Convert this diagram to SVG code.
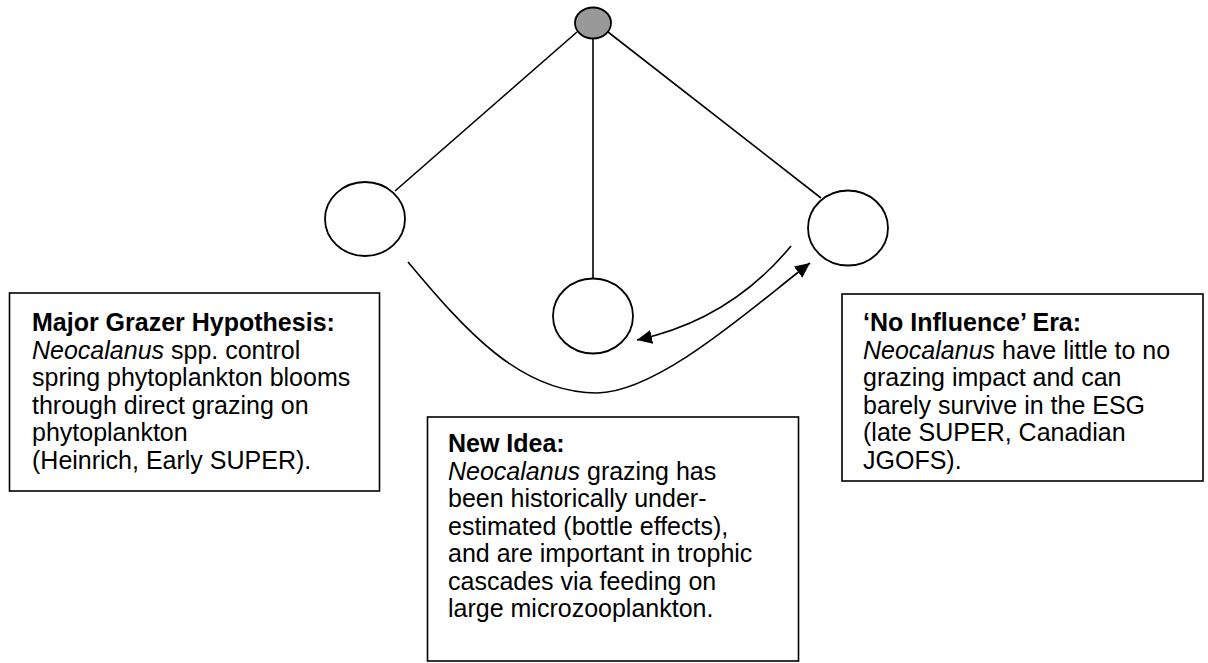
<svg xmlns="http://www.w3.org/2000/svg" width="1208" height="663" viewBox="0 0 1208 663">
<style>
.node{fill:#fff;stroke:#000;stroke-width:1.8}
.hub{fill:#999;stroke:#000;stroke-width:1.8}
.edge{fill:none;stroke:#000;stroke-width:1.6}
.box{fill:#fff;stroke:#000;stroke-width:1.6}
.t{font-family:"Liberation Sans",Arial,sans-serif;font-size:25px;fill:#000}
.b{font-weight:bold}
.i{font-style:italic}
</style>
<defs>
<marker id="ah" markerUnits="userSpaceOnUse" markerWidth="16" markerHeight="14" refX="15" refY="7" orient="auto">
<path d="M0,0 L15,7 L0,14 z" fill="#000"/>
</marker>
</defs>
<g id="connectors">
<line class="edge" x1="577" y1="32" x2="395" y2="191"/>
<line class="edge" x1="593" y1="39" x2="593" y2="279"/>
<line class="edge" x1="608" y1="32" x2="821" y2="198"/>
<path class="edge" d="M408,262 C465,330 520,393 597,393 C660,392 755,305 810,263" marker-end="url(#ah)"/>
<path class="edge" d="M791,246 Q730,320 637,340" marker-end="url(#ah)"/>
</g>
<g id="hub"><ellipse class="hub" cx="593" cy="23" rx="18" ry="15.5"/></g>
<g id="node-left"><ellipse class="node" cx="365" cy="219" rx="40" ry="37"/></g>
<g id="node-middle"><ellipse class="node" cx="593" cy="316" rx="40" ry="37.5"/></g>
<g id="node-right"><ellipse class="node" cx="848" cy="228" rx="40" ry="37.5"/></g>
<g id="box-major">
<rect class="box" x="9.5" y="293" width="370" height="198"/>
<text class="t">
<tspan class="b" x="32" y="331">Major Grazer Hypothesis:</tspan>
<tspan x="32" y="358.5"><tspan class="i">Neocalanus</tspan> spp. control</tspan>
<tspan x="32" y="386">spring phytoplankton blooms</tspan>
<tspan x="32" y="413.5">through direct grazing on</tspan>
<tspan x="32" y="441">phytoplankton</tspan>
<tspan x="32" y="468.5">(Heinrich, Early SUPER).</tspan>
</text>
</g>
<g id="box-new">
<rect class="box" x="427.5" y="417" width="371" height="244"/>
<text class="t">
<tspan class="b" x="448" y="452">New Idea:</tspan>
<tspan x="448" y="479.5"><tspan class="i">Neocalanus</tspan> grazing has</tspan>
<tspan x="448" y="507">been historically under-</tspan>
<tspan x="448" y="534.5">estimated (bottle effects),</tspan>
<tspan x="448" y="562">and are important in trophic</tspan>
<tspan x="448" y="589.5">cascades via feeding on</tspan>
<tspan x="448" y="617">large microzooplankton.</tspan>
</text>
</g>
<g id="box-noinfluence">
<rect class="box" x="842" y="294" width="361" height="187"/>
<text class="t">
<tspan class="b" x="863" y="331">‘No Influence’ Era:</tspan>
<tspan x="863" y="358.5"><tspan class="i">Neocalanus</tspan> have little to no</tspan>
<tspan x="863" y="386">grazing impact and can</tspan>
<tspan x="863" y="413.5">barely survive in the ESG</tspan>
<tspan x="863" y="441">(late SUPER, Canadian</tspan>
<tspan x="863" y="468.5">JGOFS).</tspan>
</text>
</g>
</svg>
